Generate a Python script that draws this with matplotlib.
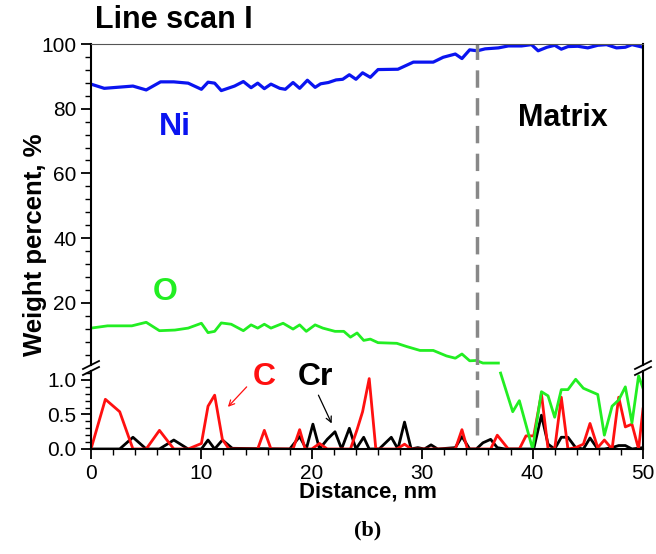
import numpy as np
import matplotlib
matplotlib.use('Agg')
import matplotlib.pyplot as plt

plt.rcParams['font.family'] = ['Liberation Sans', 'DejaVu Sans']

# Ni, weight % (upper scale)
ni_x = [0, 1.2, 3.8, 5.0, 6.3, 7.5, 8.8, 10.0, 10.6, 11.2, 11.8, 13.0, 13.8, 14.5,
        15.1, 15.7, 16.3, 17.1, 17.6, 18.3, 18.9, 19.6, 20.3, 20.8, 21.5, 22.2,
        22.8, 23.4, 24.0, 24.6, 25.3, 26.0, 27.8, 29.2, 31.0, 31.9, 33.0, 33.6,
        34.3, 35.0, 35.7, 36.9, 37.8, 39.0, 39.9, 40.5, 41.3, 42.0, 42.6, 43.2,
        44.1, 45.0, 45.9, 46.7, 47.6, 48.4, 49.0, 50.0]
ni_y = [87.6, 86.3, 87.0, 85.8, 88.3, 88.3, 87.9, 86.0, 88.2, 87.9, 85.6, 87.0,
        88.4, 86.5, 87.9, 86.2, 87.6, 86.3, 86.0, 88.1, 86.3, 88.8, 86.6, 87.7,
        88.1, 88.9, 89.1, 90.5, 89.1, 91.1, 89.7, 92.1, 92.2, 94.4, 94.4, 95.9,
        96.9, 95.5, 98.2, 97.9, 98.5, 98.8, 99.4, 99.4, 99.8, 97.9, 99.0, 99.6,
        98.4, 99.2, 99.3, 98.8, 99.6, 99.8, 98.8, 99.0, 99.8, 99.0]

# O, upper part (before the break)
o_hi_x = [0, 1.5, 3.7, 5.0, 6.2, 7.6, 8.8, 10.0, 10.6, 11.2, 11.8, 12.7, 13.8,
          14.5, 15.1, 15.7, 16.3, 17.4, 18.3, 18.9, 19.5, 20.3, 21.0, 22.1,
          22.9, 23.5, 24.1, 24.7, 25.3, 26.0, 27.7, 28.6, 29.8, 31.0, 32.2,
          33.0, 33.6, 34.3, 34.9, 35.5, 36.9]
o_hi_y = [12.2, 12.9, 12.9, 14.0, 11.4, 11.6, 12.2, 13.7, 10.8, 11.2, 13.8,
          13.4, 11.4, 13.2, 12.2, 13.4, 12.2, 13.7, 11.9, 13.2, 11.2, 13.2,
          12.2, 11.2, 11.2, 9.4, 10.7, 8.4, 8.8, 7.7, 7.5, 6.5, 5.3, 5.3, 3.6,
          2.9, 4.2, 2.1, 2.2, 1.4, 1.4]

# O, lower part (after the break)
o_lo_x = [37.1, 38.2, 38.8, 40.0, 40.8, 41.4, 42.0, 42.6, 43.2, 43.9, 44.6,
          45.9, 46.5, 47.2, 47.8, 48.4, 49.0, 49.6, 50.0]
o_lo_y = [1.10, 0.54, 0.70, 0.0, 0.83, 0.77, 0.46, 0.86, 0.86, 1.01, 0.88,
          0.79, 0.20, 0.62, 0.71, 0.90, 0.38, 1.06, 0.88]

# C
c_x = [0, 1.3, 2.6, 3.8, 5.0, 6.2, 7.5, 8.8, 10.0, 10.6, 11.2, 11.9, 12.5,
       15.1, 15.7, 16.3, 18.3, 18.9, 19.4, 20.0, 20.7, 21.4, 23.5, 24.1, 24.6,
       25.2, 25.8, 27.7, 28.4, 29.0, 33.0, 33.6, 34.1, 36.2, 36.8, 37.8, 38.8,
       39.4, 40.1, 40.8, 41.4, 42.0, 42.6, 43.2, 43.9, 44.6, 45.2, 45.9, 46.5,
       47.2, 47.8, 48.4, 49.0, 49.6, 50.0]
c_y = [0.0, 0.72, 0.54, 0.0, 0.0, 0.27, 0.0, 0.0, 0.08, 0.62, 0.78, 0.14, 0.0,
       0.0, 0.27, 0.0, 0.0, 0.28, 0.0, 0.0, 0.08, 0.0, 0.0, 0.28, 0.54, 1.02,
       0.0, 0.0, 0.07, 0.0, 0.0, 0.28, 0.0, 0.0, 0.20, 0.0, 0.0, 0.19, 0.19,
       0.80, 0.0, 0.0, 0.75, 0.0, 0.02, 0.07, 0.37, 0.02, 0.13, 0.0, 0.75, 0.32,
       0.36, 0.0, 0.58]

# Cr
cr_x = [0, 2.6, 3.8, 5.0, 6.2, 7.5, 8.8, 10.0, 10.6, 11.2, 11.9, 12.8, 18.0,
        18.9, 19.5, 20.1, 20.7, 21.4, 22.1, 22.7, 23.4, 24.0, 24.7, 25.2, 26.1,
        27.2, 27.8, 28.4, 29.0, 29.6, 30.2, 30.8, 31.4, 33.0, 33.6, 34.3, 34.9,
        35.5, 36.2, 36.8, 37.5, 40.1, 40.8, 41.4, 42.0, 42.6, 43.2, 43.9, 44.6,
        45.2, 45.9, 46.5, 47.2, 47.8, 48.4, 49.0, 50.0]
cr_y = [0.0, 0.0, 0.17, 0.0, 0.0, 0.13, 0.0, 0.0, 0.13, 0.0, 0.13, 0.01, 0.0,
        0.18, 0.0, 0.36, 0.0, 0.14, 0.25, 0.0, 0.30, 0.0, 0.17, 0.0, 0.0, 0.17,
        0.0, 0.39, 0.0, 0.02, 0.0, 0.06, 0.0, 0.02, 0.18, 0.0, 0.0, 0.09, 0.14,
        0.02, 0.0, 0.0, 0.49, 0.07, 0.0, 0.17, 0.17, 0.02, 0.0, 0.16, 0.0, 0.0,
        0.02, 0.05, 0.05, 0.0, 0.02]

boundary_x = 35

W, H = 656, 554
fig = plt.figure(figsize=(W / 100, H / 100), dpi=100)

left, right = 91 / W, 643 / W
ax_hi = fig.add_axes([left, 1 - 365 / H, right - left, (365 - 44) / H])
ax_lo = fig.add_axes([left, 1 - 449 / H, right - left, (449 - 371) / H])

# upper panel
ax_hi.plot(ni_x, ni_y, color='#0a14f0', lw=2.3)
ax_hi.plot(o_hi_x, o_hi_y, color='#22ee22', lw=2.0)
ax_hi.axvline(boundary_x, color='#888888', lw=2.5, dashes=(5, 3))
ax_hi.set_xlim(0, 50)
ax_hi.set_ylim(0.8, 100)
ax_hi.set_yticks([20, 40, 60, 80, 100])
ax_hi.set_yticks(np.arange(4, 100, 4), minor=True)
ax_hi.tick_params(axis='x', bottom=False, labelbottom=False)
ax_hi.spines['bottom'].set_visible(False)
ax_hi.spines['top'].set_color('#555555')

# lower panel
ax_lo.plot(cr_x, cr_y, color='black', lw=2.0)
ax_lo.plot(c_x, c_y, color='#ff1010', lw=2.0)
ax_lo.plot(o_lo_x, o_lo_y, color='#22ee22', lw=2.0)
ax_lo.plot([boundary_x, boundary_x], [0.2, 1.13], color='#888888', lw=2.5, dashes=(5, 3))
ax_lo.set_xlim(0, 50)
ax_lo.set_ylim(0, 1.13)
ax_lo.set_yticks([0.0, 0.5, 1.0])
ax_lo.set_yticklabels(['0.0', '0.5', '1.0'])
ax_lo.set_yticks(np.arange(0.1, 1.11, 0.1), minor=True)
ax_lo.set_xticks(np.arange(0, 51, 10))
ax_lo.set_xticks(np.arange(0, 51, 2), minor=True)
ax_lo.spines['top'].set_visible(False)

for ax in (ax_hi, ax_lo):
    ax.spines['left'].set_linewidth(1.5)
    ax.spines['right'].set_linewidth(1.5)
    ax.spines['bottom'].set_linewidth(1.5)
    ax.tick_params(which='major', direction='out', length=7, width=1.3, labelsize=15)
    ax.tick_params(which='minor', direction='out', length=4, width=1.0)
    ax.tick_params(axis='y', right=False)

# break marks on both sides
yb = 1 - 368 / H
for xb in (left, right):
    for dy in (-3 / H, 3 / H):
        fig.add_artist(plt.Line2D([xb - 8 / W, xb + 8 / W],
                                  [yb + dy - 4 / H, yb + dy + 4 / H],
                                  color='black', lw=1.3))

# annotations
ax_hi.text(7.6, 74.4, 'Ni', color='#0a14f0', fontsize=23, fontweight='bold',
           ha='center', va='center')
ax_hi.text(42.7, 77.1, 'Matrix', color='black', fontsize=22, fontweight='bold',
           ha='center', va='center')
ax_hi.text(6.7, 23.4, 'O', color='#22ee22', fontsize=23, fontweight='bold',
           ha='center', va='center')
ax_lo.text(15.7, 1.05, 'C', color='#ff1010', fontsize=23, fontweight='bold',
           ha='center', va='center')
ax_lo.text(20.3, 1.04, 'Cr', color='black', fontsize=23, fontweight='bold',
           ha='center', va='center')
ax_lo.annotate('', xy=(12.4, 0.61), xytext=(14.1, 0.90),
               arrowprops=dict(arrowstyle='->', color='#ff1010', lw=0.9,
                               shrinkA=0, shrinkB=0))
ax_lo.annotate('', xy=(21.8, 0.37), xytext=(20.6, 0.78),
               arrowprops=dict(arrowstyle='->', color='black', lw=0.9,
                               shrinkA=0, shrinkB=0))

fig.text(95 / W, 1 - 20 / H, 'Line scan I', fontsize=22, fontweight='bold',
         ha='left', va='center')
fig.text(35 / W, 1 - 245 / H, 'Weight percent, %', fontsize=18.5, fontweight='bold',
         rotation=90, ha='center', va='center')
fig.text(368 / W, 1 - 492 / H, 'Distance, nm', fontsize=16, fontweight='bold',
         ha='center', va='center')
fig.text(368 / W, 1 - 530 / H, '(b)', fontsize=16, fontweight='bold',
         family=['Liberation Serif', 'DejaVu Serif'], ha='center', va='center')

fig.savefig('out.png', dpi=100)
